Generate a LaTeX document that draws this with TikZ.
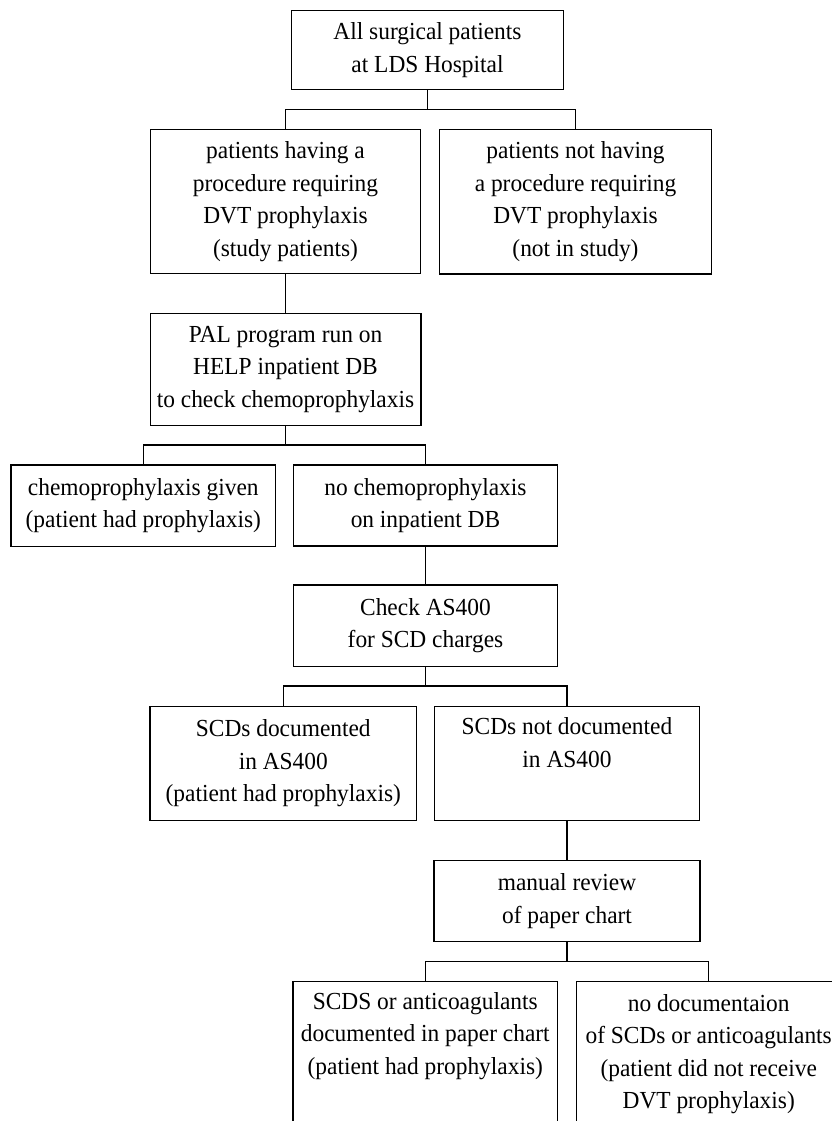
\documentclass[tikz,border=0pt]{standalone}
\usepackage{fontspec}
\setmainfont{Liberation Serif}[FakeStretch=0.955]
\begin{document}
\begin{tikzpicture}[x=1pt,y=-1pt,
  box/.style={draw=black, line width=1.3pt, inner sep=0pt, align=center,
    font=\fontsize{24.5pt}{32.5pt}\selectfont},
  link/.style={draw=black, line width=1.2pt}]
\clip (0,0) rectangle (832,1121);
\fill[white] (0,0) rectangle (832,1121);

\node[box, minimum width=271.6pt, minimum height=78.6pt] (top) at (427.5,50) {All surgical patients\\at LDS Hospital};
\node[box, minimum width=269.5pt, minimum height=144.2pt] (b2l) at (285.5,201.4) {patients having a\\procedure requiring\\DVT prophylaxis\\(study patients)};
\node[box, minimum width=272.5pt, minimum height=144.6pt] (b2r) at (575.5,201.6) {patients not having\\a procedure requiring\\DVT prophylaxis\\(not in study)};
\node[box, minimum width=270.7pt, minimum height=112.4pt] (pal) at (285.5,369.5) {PAL program run on\\HELP inpatient DB\\to check chemoprophylaxis};
\node[box, minimum width=264.5pt, minimum height=81.2pt] (cg) at (143.3,505.7) {chemoprophylaxis given\\(patient had prophylaxis)};
\node[box, minimum width=264pt, minimum height=81pt] (nc) at (425.5,505.5) {no chemoprophylaxis\\on inpatient DB};
\node[box, minimum width=264pt, minimum height=81.7pt] (as) at (425.5,625.8) {Check AS400\\for SCD charges};
\node[box, minimum width=266.7pt, minimum height=114pt] (sd) at (283.3,763.6) {SCDs documented\\in AS400\\(patient had prophylaxis)};
\node[box, minimum width=265.2pt, minimum height=113.8pt] (sn) at (567,763.6) {SCDs not documented\\in AS400\\\strut};
\node[box, minimum width=266pt, minimum height=81pt] (mr) at (567,901.2) {manual review\\of paper chart};
\node[box, minimum width=264.7pt, minimum height=145pt] (bl) at (425.3,1054.2) {SCDS or anticoagulants\\documented in paper chart\\(patient had prophylaxis)\\\strut};
\node[box, minimum width=264.7pt, minimum height=145pt] (br) at (708.7,1054.2) {no documentaion\\of SCDs or anticoagulants\\(patient did not receive\\DVT prophylaxis)};

\coordinate (j1) at (427.5,109.3);
\coordinate (j2) at (285.5,445);
\coordinate (j3) at (425.5,686);
\coordinate (j4) at (567,961.7);

\draw[link] (top.south) -- (j1);
\draw[link] (b2l.north) |- (j1) -| (b2r.north);
\draw[link] (b2l.south) -- (pal.north);
\draw[link] (pal.south) -- (j2);
\draw[link] (cg.north) |- (j2) -| (nc.north);
\draw[link] (nc.south) -- (as.north);
\draw[link] (as.south) -- (j3);
\draw[link] (sd.north) |- (j3) -| (sn.north);
\draw[link] (sn.south) -- (mr.north);
\draw[link] (mr.south) -- (j4);
\draw[link] (bl.north) |- (j4) -| (br.north);
\end{tikzpicture}
\end{document}
